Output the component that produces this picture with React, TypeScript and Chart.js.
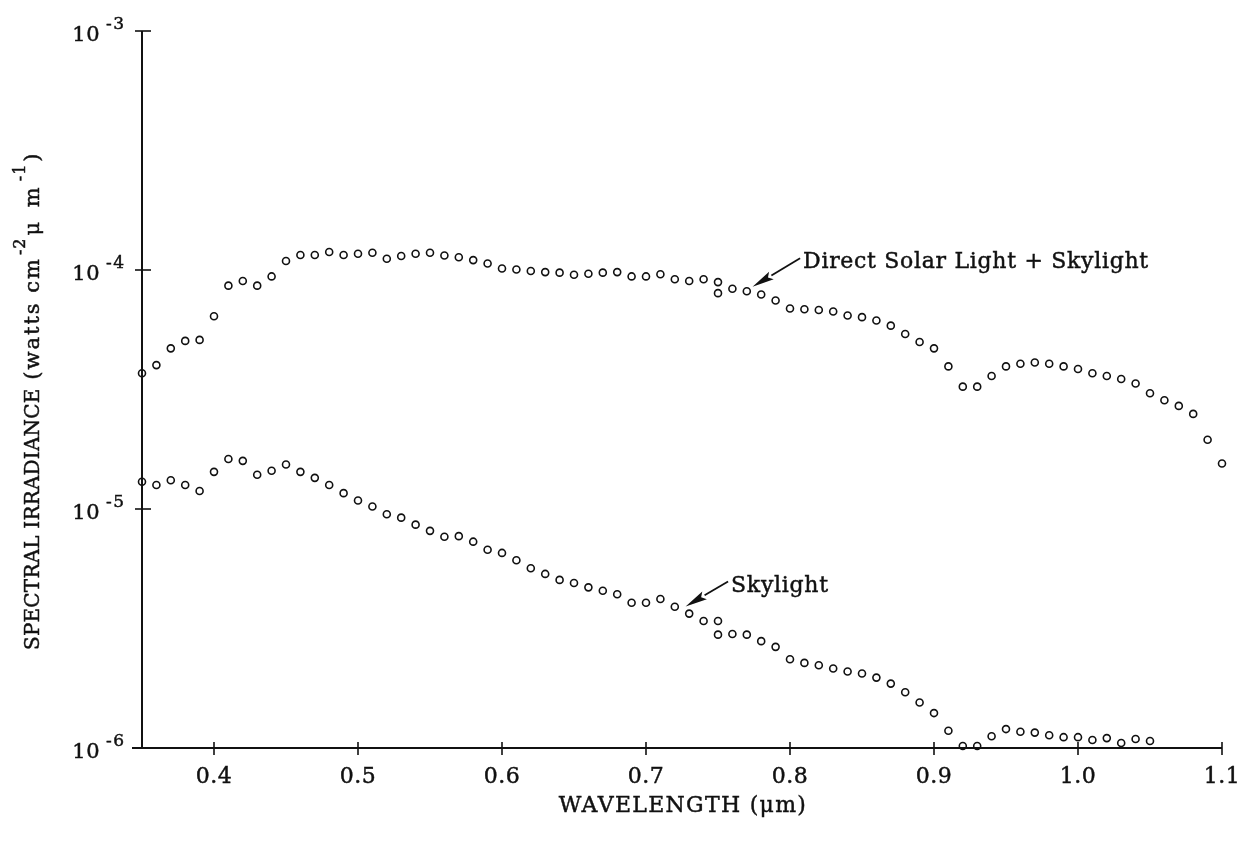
import { useEffect, useRef } from "react";
import { Chart, registerables } from "chart.js";

Chart.register(...registerables);

// Direct solar light + skylight, W cm^-2 um^-1 (two readings at 0.75 um)
const directWavelength = [
  0.35, 0.36, 0.37, 0.38, 0.39, 0.40, 0.41, 0.42, 0.43, 0.44,
  0.45, 0.46, 0.47, 0.48, 0.49, 0.50, 0.51, 0.52, 0.53, 0.54,
  0.55, 0.56, 0.57, 0.58, 0.59, 0.60, 0.61, 0.62, 0.63, 0.64,
  0.65, 0.66, 0.67, 0.68, 0.69, 0.70, 0.71, 0.72, 0.73, 0.74,
  0.75, 0.75, 0.76, 0.77, 0.78, 0.79, 0.80, 0.81, 0.82, 0.83,
  0.84, 0.85, 0.86, 0.87, 0.88, 0.89, 0.90, 0.91, 0.92, 0.93,
  0.94, 0.95, 0.96, 0.97, 0.98, 0.99, 1.00, 1.01, 1.02, 1.03,
  1.04, 1.05, 1.06, 1.07, 1.08, 1.09, 1.10,
];
const directIrradiance = [
  3.7e-5, 4.0e-5, 4.7e-5, 5.05e-5, 5.1e-5, 6.4e-5, 8.6e-5, 9.0e-5, 8.6e-5, 9.4e-5,
  1.09e-4, 1.155e-4, 1.155e-4, 1.19e-4, 1.155e-4, 1.17e-4, 1.18e-4, 1.115e-4, 1.145e-4, 1.17e-4,
  1.18e-4, 1.15e-4, 1.13e-4, 1.10e-4, 1.065e-4, 1.015e-4, 1.005e-4, 9.9e-5, 9.8e-5, 9.75e-5,
  9.55e-5, 9.65e-5, 9.75e-5, 9.8e-5, 9.4e-5, 9.4e-5, 9.6e-5, 9.15e-5, 9.0e-5, 9.15e-5,
  8.9e-5, 8.0e-5, 8.35e-5, 8.15e-5, 7.9e-5, 7.45e-5, 6.9e-5, 6.85e-5, 6.8e-5, 6.7e-5,
  6.45e-5, 6.35e-5, 6.15e-5, 5.85e-5, 5.4e-5, 5.0e-5, 4.7e-5, 3.95e-5, 3.25e-5, 3.25e-5,
  3.6e-5, 3.95e-5, 4.05e-5, 4.1e-5, 4.05e-5, 3.95e-5, 3.85e-5, 3.7e-5, 3.6e-5, 3.5e-5,
  3.35e-5, 3.05e-5, 2.85e-5, 2.7e-5, 2.5e-5, 1.95e-5, 1.55e-5,
];

// Skylight only, W cm^-2 um^-1 (two readings at 0.75 um)
const skyWavelength = [
  0.35, 0.36, 0.37, 0.38, 0.39, 0.40, 0.41, 0.42, 0.43, 0.44,
  0.45, 0.46, 0.47, 0.48, 0.49, 0.50, 0.51, 0.52, 0.53, 0.54,
  0.55, 0.56, 0.57, 0.58, 0.59, 0.60, 0.61, 0.62, 0.63, 0.64,
  0.65, 0.66, 0.67, 0.68, 0.69, 0.70, 0.71, 0.72, 0.73, 0.74,
  0.75, 0.75, 0.76, 0.77, 0.78, 0.79, 0.80, 0.81, 0.82, 0.83,
  0.84, 0.85, 0.86, 0.87, 0.88, 0.89, 0.90, 0.91, 0.92, 0.93,
  0.94, 0.95, 0.96, 0.97, 0.98, 0.99, 1.00, 1.01, 1.02, 1.03,
  1.04, 1.05,
];
const skyIrradiance = [
  1.3e-5, 1.26e-5, 1.32e-5, 1.26e-5, 1.19e-5, 1.43e-5, 1.62e-5, 1.59e-5, 1.39e-5, 1.445e-5,
  1.535e-5, 1.43e-5, 1.35e-5, 1.26e-5, 1.165e-5, 1.085e-5, 1.025e-5, 9.5e-6, 9.2e-6, 8.6e-6,
  8.1e-6, 7.65e-6, 7.7e-6, 7.3e-6, 6.75e-6, 6.55e-6, 6.1e-6, 5.65e-6, 5.35e-6, 5.05e-6,
  4.9e-6, 4.7e-6, 4.55e-6, 4.4e-6, 4.05e-6, 4.05e-6, 4.2e-6, 3.9e-6, 3.65e-6, 3.4e-6,
  3.4e-6, 2.98e-6, 3.0e-6, 2.98e-6, 2.8e-6, 2.65e-6, 2.35e-6, 2.27e-6, 2.22e-6, 2.15e-6,
  2.09e-6, 2.05e-6, 1.97e-6, 1.86e-6, 1.71e-6, 1.55e-6, 1.4e-6, 1.18e-6, 1.02e-6, 1.02e-6,
  1.12e-6, 1.2e-6, 1.17e-6, 1.16e-6, 1.13e-6, 1.11e-6, 1.11e-6, 1.08e-6, 1.1e-6, 1.05e-6,
  1.09e-6, 1.07e-6,
];

const xTickLabels = ["0.4", "0.5", "0.6", "0.7", "0.8", "0.9", "1.0", "1.1"];
const yTickExponents = [-3, -4, -5, -6];

const xTitle = "WAVELENGTH (\u03bcm)";
const yTitleParts = [
  { text: "SPECTRAL IRRADIANCE", sup: false, size: 20, spacing: 0.2 },
  { text: " (watts cm", sup: false, size: 21, spacing: 2 },
  { text: "-2", sup: true, size: 16, spacing: 1 },
  { text: "\u03bc m", sup: false, size: 21, spacing: 4 },
  { text: "-1", sup: true, size: 16, spacing: 1 },
  { text: ")", sup: false, size: 21, spacing: 0 },
];

// Callouts: arrow tail / tip in data units (wavelength, irradiance)
const callouts = [
  { text: "Direct Solar Light + Skylight", tail: [0.807, 1.12e-4], tip: [0.774, 8.5e-5] },
  { text: "Skylight", tail: [0.757, 4.97e-6], tip: [0.7275, 3.91e-6] },
];

const INK = "#111111";
const SERIF = '"DejaVu Serif", "Liberation Serif", serif';

function setSpacing(ctx: CanvasRenderingContext2D, px: number) {
  (ctx as any).letterSpacing = `${px}px`;
}

// Filled text with a hairline outline so the type has some weight
function inkText(ctx: CanvasRenderingContext2D, text: string, x: number, y: number) {
  ctx.fillText(text, x, y);
  ctx.lineWidth = 0.45;
  ctx.strokeText(text, x, y);
}

const frame = {
  id: "frame",
  beforeDatasetsDraw(chart: any) {
    const ctx = chart.ctx as CanvasRenderingContext2D;
    const xs = chart.scales.x;
    const ys = chart.scales.y;
    const { left, right, top, bottom } = chart.chartArea;
    ctx.save();
    ctx.strokeStyle = INK;
    ctx.fillStyle = INK;
    ctx.lineCap = "butt";

    // axis lines
    ctx.lineWidth = 2;
    ctx.beginPath();
    ctx.moveTo(left, top);
    ctx.lineTo(left, bottom);
    ctx.moveTo(left - 10, bottom);
    ctx.lineTo(right, bottom);
    ctx.stroke();

    // decade ticks on the y axis
    ctx.lineWidth = 1.6;
    for (const e of yTickExponents) {
      if (e === -6) continue;
      const py = ys.getPixelForValue(Math.pow(10, e));
      ctx.beginPath();
      ctx.moveTo(left - 7, py);
      ctx.lineTo(left + 9, py);
      ctx.stroke();
    }

    // x ticks and labels
    ctx.textAlign = "center";
    ctx.textBaseline = "alphabetic";
    for (const lab of xTickLabels) {
      const px = xs.getPixelForValue(parseFloat(lab));
      ctx.lineWidth = 1.6;
      ctx.beginPath();
      ctx.moveTo(px, bottom - 6);
      ctx.lineTo(px, bottom + 7);
      ctx.stroke();
      ctx.font = `22px ${SERIF}`;
      setSpacing(ctx, 0.5);
      inkText(ctx, lab, px, bottom + 35);
    }

    // y labels: 10 with superscript exponent
    for (const e of yTickExponents) {
      const py = ys.getPixelForValue(Math.pow(10, e));
      ctx.font = `21px ${SERIF}`;
      setSpacing(ctx, 0.5);
      ctx.textAlign = "right";
      inkText(ctx, "10", left - 42, py + 10);
      ctx.font = `17px ${SERIF}`;
      setSpacing(ctx, 1.5);
      ctx.textAlign = "left";
      inkText(ctx, String(e), left - 36, py - 2);
    }

    // x title
    ctx.font = `22px ${SERIF}`;
    setSpacing(ctx, 1.3);
    ctx.textAlign = "center";
    inkText(ctx, xTitle, (left + right) / 2 + 1, bottom + 64);

    // y title, rotated, with raised exponents; starts near the x axis and runs upward
    ctx.save();
    ctx.translate(32, 650);
    ctx.rotate(-Math.PI / 2);
    ctx.textAlign = "left";
    let cx = 0;
    for (const p of yTitleParts) {
      ctx.font = `${p.size}px ${SERIF}`;
      setSpacing(ctx, p.spacing);
      const w = ctx.measureText(p.text).width;
      inkText(ctx, p.text, cx + (p.sup ? 2 : 0), p.sup ? -7 : 7);
      cx += w + (p.sup ? 4 : 0);
    }
    ctx.restore();

    ctx.restore();
  },
  afterDatasetsDraw(chart: any) {
    const ctx = chart.ctx as CanvasRenderingContext2D;
    const xs = chart.scales.x;
    const ys = chart.scales.y;
    ctx.save();
    ctx.strokeStyle = INK;
    ctx.fillStyle = INK;
    for (const c of callouts) {
      const tx = xs.getPixelForValue(c.tail[0]);
      const ty = ys.getPixelForValue(c.tail[1]);
      const hx = xs.getPixelForValue(c.tip[0]);
      const hy = ys.getPixelForValue(c.tip[1]);
      const ang = Math.atan2(hy - ty, hx - tx);
      const headLen = 22;
      const headHalf = 4.5;
      const bx = hx - headLen * Math.cos(ang);
      const by = hy - headLen * Math.sin(ang);
      ctx.lineWidth = 1.8;
      ctx.beginPath();
      ctx.moveTo(tx, ty);
      ctx.lineTo(bx, by);
      ctx.stroke();
      ctx.beginPath();
      ctx.moveTo(hx, hy);
      ctx.lineTo(bx + headHalf * Math.sin(ang), by - headHalf * Math.cos(ang));
      ctx.lineTo(bx + 4 * Math.cos(ang), by + 4 * Math.sin(ang));
      ctx.lineTo(bx - headHalf * Math.sin(ang), by + headHalf * Math.cos(ang));
      ctx.closePath();
      ctx.fill();
      ctx.font = `22px ${SERIF}`;
      setSpacing(ctx, 0.7);
      ctx.textAlign = "left";
      ctx.textBaseline = "alphabetic";
      inkText(ctx, c.text, tx + 3, ty + 10);
    }
    ctx.restore();
  },
};

function toPoints(xs: number[], ys: number[]) {
  return xs.map((x, i) => ({ x, y: ys[i] }));
}

export default function App() {
  const canvasRef = useRef<HTMLCanvasElement | null>(null);

  useEffect(() => {
    const canvas = canvasRef.current;
    if (!canvas) return;
    const marker = {
      pointStyle: "circle" as const,
      pointRadius: 3.5,
      pointBorderWidth: 1.6,
      pointBorderColor: INK,
      pointBackgroundColor: "rgba(0,0,0,0)",
      showLine: false,
      clip: false as any,
    };
    const chart = new Chart(canvas, {
      type: "scatter",
      data: {
        datasets: [
          { label: "Direct Solar Light + Skylight", data: toPoints(directWavelength, directIrradiance), ...marker },
          { label: "Skylight", data: toPoints(skyWavelength, skyIrradiance), ...marker },
        ],
      },
      options: {
        responsive: false,
        animation: false,
        devicePixelRatio: 1,
        layout: { padding: { top: 31, right: 22, left: 0, bottom: 0 } },
        plugins: { legend: { display: false }, tooltip: { enabled: false } },
        scales: {
          x: {
            type: "linear",
            min: 0.35,
            max: 1.1,
            grid: { display: false },
            border: { display: false },
            ticks: { display: false },
            afterFit: (s: any) => { s.height = 93; },
          },
          y: {
            type: "logarithmic",
            min: 1e-6,
            max: 1e-3,
            grid: { display: false },
            border: { display: false },
            ticks: { display: false },
            afterFit: (s: any) => { s.width = 142; },
          },
        },
      },
      plugins: [frame],
    });
    return () => chart.destroy();
  }, []);

  return (
    <div style={{ position: "absolute", left: 0, top: 0, width: 1244, height: 841, background: "#fff" }}>
      <canvas ref={canvasRef} width={1244} height={841} style={{ display: "block" }} />
    </div>
  );
}
